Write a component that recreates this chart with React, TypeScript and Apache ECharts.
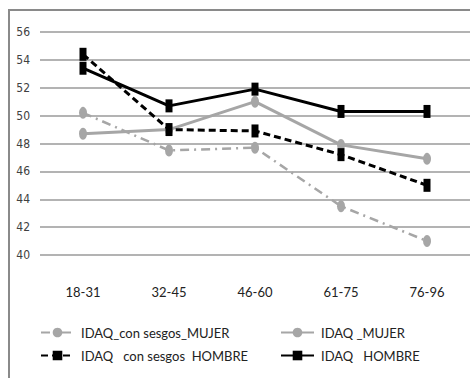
import React, { useEffect, useRef } from "react";
import * as echarts from "echarts";

const categories = ["18-31", "32-45", "46-60", "61-75", "76-96"];
const sesgosMujer = [50.2, 47.5, 47.7, 43.5, 41.0];
const idaqMujer = [48.7, 49.0, 51.0, 47.9, 46.9];
const sesgosHombre = [54.4, 49.0, 48.9, 47.2, 45.0];
const idaqHombre = [53.4, 50.7, 51.9, 50.3, 50.3];
const seriesNames = [
  "IDAQ_con sesgos_MUJER",
  "IDAQ _MUJER",
  "IDAQ   con sesgos  HOMBRE",
  "IDAQ   HOMBRE",
];

const GRAY = "#a6a6a6";
const BLACK = "#000000";
const FONT = "Lato, 'Open Sans', sans-serif";

export default function App() {
  const ref = useRef<HTMLDivElement>(null);
  useEffect(() => {
    if (!ref.current) return;
    const chart = echarts.init(ref.current, undefined, { renderer: "svg" });
    const legendBase = (name: string, left: number, top: number) => ({
      data: [name],
      left,
      top,
      itemWidth: 33,
      itemHeight: 12,
      itemGap: 0,
      padding: 0,
      selectedMode: false,
      textStyle: { fontFamily: FONT, fontSize: 13, color: "#222", padding: [0, 0, 0, 2] },
    });
    chart.setOption({
      animation: false,
      backgroundColor: "#ffffff",
      grid: { left: 40, top: 32, width: 431, height: 223 },
      graphic: [
        {
          type: "rect",
          shape: { x: 9, y: 10, width: 480, height: 400 },
          style: { fill: "none", stroke: "#8a8a8a", lineWidth: 2 },
          silent: true,
        },
      ],
      legend: [
        legendBase(seriesNames[0], 40, 326),
        legendBase(seriesNames[1], 280, 326),
        legendBase(seriesNames[2], 40, 349),
        legendBase(seriesNames[3], 280, 349),
      ],
      xAxis: {
        type: "category",
        data: categories,
        boundaryGap: true,
        axisLine: { show: false },
        axisTick: { show: false },
        axisLabel: { margin: 30, fontFamily: FONT, fontSize: 13, color: "#222" },
      },
      yAxis: {
        type: "value",
        min: 40,
        max: 56,
        interval: 2,
        axisLine: { show: false },
        axisTick: { show: false },
        axisLabel: {
          margin: 10,
          fontFamily: "'Liberation Sans Narrow', 'DejaVu Sans Condensed', sans-serif",
          fontSize: 12,
          color: "#404040",
        },
        splitLine: { lineStyle: { color: "#9a9a9a", width: 1.5 } },
      },
      series: [
        {
          name: seriesNames[0],
          type: "line",
          data: sesgosMujer,
          symbol: "circle",
          symbolSize: [8, 12],
          itemStyle: { color: GRAY },
          lineStyle: { color: GRAY, width: 2.5, type: [9, 5, 2, 5] },
          z: 2,
        },
        {
          name: seriesNames[1],
          type: "line",
          data: idaqMujer,
          symbol: "circle",
          symbolSize: [8, 12],
          itemStyle: { color: GRAY },
          lineStyle: { color: GRAY, width: 3 },
          z: 3,
        },
        {
          name: seriesNames[2],
          type: "line",
          data: sesgosHombre,
          symbol: "rect",
          symbolSize: [7, 13],
          itemStyle: { color: BLACK },
          lineStyle: { color: BLACK, width: 3, type: [7, 4] },
          z: 4,
        },
        {
          name: seriesNames[3],
          type: "line",
          data: idaqHombre,
          symbol: "rect",
          symbolSize: [7, 13],
          itemStyle: { color: BLACK },
          lineStyle: { color: BLACK, width: 3 },
          z: 5,
        },
      ],
    });
    return () => chart.dispose();
  }, []);
  return (
    <div
      ref={ref}
      style={{ position: "absolute", left: 0, top: 0, width: 470, height: 378, overflow: "hidden" }}
    />
  );
}
